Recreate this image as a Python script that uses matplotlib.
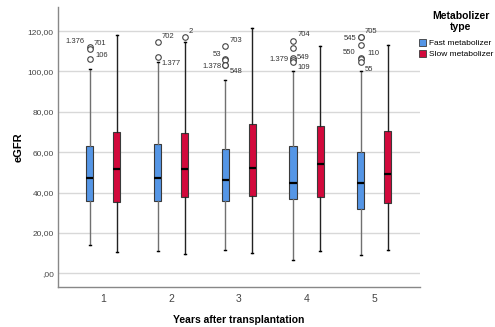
import matplotlib
matplotlib.use('Agg')
import matplotlib.pyplot as plt
from matplotlib.patches import Patch

plt.rcParams['font.family'] = ['Liberation Sans', 'DejaVu Sans']

years = [1, 2, 3, 4, 5]
groups = ['Fast metabolizer', 'Slow metabolizer']
colors = ['#5596E6', '#D2093C']

# box statistics per year: [fast, slow]
whislo = [[13.9, 10.4], [10.9, 9.7], [11.4, 10.1], [6.4, 11.1], [8.9, 11.7]]
q1 = [[36.0, 35.3], [35.7, 38.0], [35.7, 38.3], [36.7, 37.8], [32.0, 35.0]]
med = [[47.1, 51.8], [47.1, 51.7], [46.4, 52.4], [44.8, 54.2], [44.6, 49.4]]
q3 = [[63.3, 70.1], [64.1, 69.7], [61.5, 74.1], [63.3, 73.2], [60.2, 70.7]]
whishi = [[101.1, 118.0], [104.8, 114.7], [95.8, 121.6], [100.0, 112.6], [100.3, 113.0]]

# outliers: (year, group index, value, case label)
outliers = [
    (1, 0, 112.2, '1.376'), (1, 0, 111.2, '701'), (1, 0, 106.4, '106'),
    (2, 0, 114.5, '702'), (2, 0, 107.4, '1.377'), (2, 1, 117.2, '2'),
    (3, 0, 112.5, '703'), (3, 0, 106.4, '53'), (3, 0, 105.6, ''),
    (3, 0, 103.3, '1.378'), (3, 0, 103.3, '548'),
    (4, 0, 114.9, '704'), (4, 0, 111.4, ''), (4, 0, 106.8, '549'),
    (4, 0, 105.9, '1.379'), (4, 0, 104.6, '109'),
    (5, 0, 117.2, '705'), (5, 0, 117.2, '545'), (5, 0, 113.1, ''),
    (5, 0, 106.8, '550'), (5, 0, 106.0, '110'), (5, 0, 104.5, '55'),
]
# label placement (points offset, alignment) in the same order
label_pos = [
    (-4, 4, 'right'), (3, 4, 'left'), (4, 2, 'left'),
    (3, 4, 'left'), (3, -5, 'left'), (3, 4, 'left'),
    (3, 4, 'left'), (-3, 3, 'right'), (0, 0, 'left'),
    (-3, -1, 'right'), (3, -5, 'left'),
    (3, 5, 'left'), (0, 0, 'left'), (3, 0, 'left'),
    (-3, 0, 'right'), (3, -4, 'left'),
    (3, 4, 'left'), (-3, -1, 'right'), (0, 0, 'left'),
    (-4, 4, 'right'), (5, 4, 'left'), (3, -5, 'left'),
]

offset = 0.2
width = 0.105

fig = plt.figure(figsize=(4.95, 3.27), dpi=100)
ax = fig.add_axes([0.117, 0.122, 0.731, 0.857])

for g in range(2):
    stats = []
    for i, y in enumerate(years):
        stats.append(dict(whislo=whislo[i][g], q1=q1[i][g], med=med[i][g],
                          q3=q3[i][g], whishi=whishi[i][g], fliers=[]))
    pos = [y + (2 * g - 1) * offset for y in years]
    wcol = '#707070' if g == 0 else '#222222'
    ax.bxp(stats, positions=pos, widths=width, patch_artist=True,
           showfliers=False, capwidths=0.03,
           boxprops=dict(facecolor=colors[g], edgecolor='#3a3a3a', linewidth=0.8),
           medianprops=dict(color='black', linewidth=1.6),
           whiskerprops=dict(color=wcol, linewidth=1.0),
           capprops=dict(color='black', linewidth=1.0), zorder=3)

for (yr, g, v, lab), (dx, dy, ha) in zip(outliers, label_pos):
    x = yr + (2 * g - 1) * offset
    ax.plot(x, v, marker='o', markersize=4, markerfacecolor='white',
            markeredgecolor='#444444', markeredgewidth=0.8, zorder=4)
    if lab:
        ax.annotate(lab, (x, v), xytext=(dx, dy), textcoords='offset points',
                    ha=ha, va='center', fontsize=5.5, color='#333333')

ax.set_xlim(0.33, 5.67)
ax.set_ylim(-6.8, 132)
ax.set_yticks([0, 20, 40, 60, 80, 100, 120])
ax.set_yticklabels([',00', '20,00', '40,00', '60,00', '80,00', '100,00', '120,00'],
                   fontsize=6, color='#444444')
ax.set_xticks(years)
ax.set_xticklabels([str(y) for y in years], fontsize=7.5, color='#444444')
ax.tick_params(axis='y', length=0, pad=3)
ax.tick_params(axis='x', length=0, pad=5)
ax.grid(axis='y', color='#d8d8d8', linewidth=1.0, zorder=0)
ax.set_axisbelow(True)
for s in ['top', 'right']:
    ax.spines[s].set_visible(False)
for s in ['left', 'bottom']:
    ax.spines[s].set_color('#888888')
    ax.spines[s].set_linewidth(1.0)

ax.set_ylabel('eGFR', fontsize=8, fontweight='bold', labelpad=3)
ax.set_xlabel('Years after transplantation', fontsize=7.5, fontweight='bold', labelpad=8)

fig.text(461 / 495, 1 - 11 / 327, 'Metabolizer\ntype', ha='center', va='top',
         multialignment='center', fontsize=7.5, fontweight='bold', linespacing=1.1)

handles = [Patch(facecolor=colors[g], edgecolor='#3a3a3a', linewidth=0.6, label=groups[g])
           for g in range(2)]
leg = fig.legend(handles=handles, loc='upper left',
                 bbox_to_anchor=(418 / 495, 1 - 38 / 327),
                 bbox_transform=fig.transFigure,
                 frameon=False, fontsize=6.0,
                 handlelength=0.9, handleheight=0.9, handletextpad=0.3,
                 borderpad=0.1, borderaxespad=0, labelspacing=0.3)

fig.savefig('out.png', dpi=100)
